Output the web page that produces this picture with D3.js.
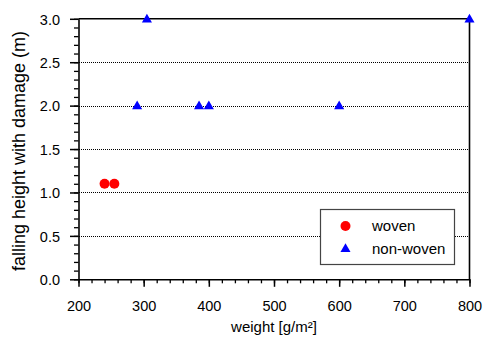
<!DOCTYPE html>
<html><head><meta charset="utf-8">
<script src="https://cdn.jsdelivr.net/npm/d3@7"></script>
<style>html,body{margin:0;padding:0;background:#fff;}svg{display:block;font-family:"Liberation Sans",Arial,sans-serif;}</style>
</head><body>
<svg id="c" width="485" height="341"></svg>
<script>
const wovenX = [240, 255];
const wovenY = [1.1, 1.1];
const nonWovenX = [305, 290, 385, 400, 600, 800];
const nonWovenY = [3.0, 2.0, 2.0, 2.0, 2.0, 3.0];
const xTicks = [200, 300, 400, 500, 600, 700, 800];
const yTicks = [0.0, 0.5, 1.0, 1.5, 2.0, 2.5, 3.0];
const seriesNames = ["woven", "non-woven"];
const xTitle = "weight [g/m²]";
const yTitle = "falling height with damage (m)";

const svg = d3.select("#c");
const L = 78.5, R = 469.5, T = 18.8, B = 279.3;
const x = d3.scaleLinear().domain([200, 800]).range([L, R]);
const y = d3.scaleLinear().domain([0, 3]).range([B, T]);

// grid
const g = svg.append("g");
g.selectAll("line.grid").data(yTicks.filter(v => v > 0 && v < 3)).enter().append("line")
  .attr("x1", Math.ceil(L)).attr("x2", R).attr("y1", d => Math.round(y(d)) + 0.5).attr("y2", d => Math.round(y(d)) + 0.5)
  .attr("stroke", "#000").attr("stroke-width", 1).attr("stroke-dasharray", "1,1")
  .attr("shape-rendering", "crispEdges");

// minor ticks
const xMinor = d3.range(200, 801, 20);
const yMinor = d3.range(0, 3.001, 0.1);
svg.append("g").attr("transform", `translate(0,${B})`)
  .call(d3.axisBottom(x).tickValues(xMinor).tickSize(4).tickFormat(""))
  .call(a => a.select(".domain").remove())
  .selectAll("line").attr("stroke-width", 1.3);
svg.append("g").attr("transform", `translate(${L},0)`)
  .call(d3.axisLeft(y).tickValues(yMinor).tickSize(4.5).tickFormat(""))
  .call(a => a.select(".domain").remove())
  .selectAll("line").attr("stroke-width", 1.3);

// major axes
const xa = svg.append("g").attr("transform", `translate(0,${B})`)
  .call(d3.axisBottom(x).tickValues(xTicks).tickSize(7.5).tickSizeOuter(0).tickPadding(14).tickFormat(d3.format("d")));
const ya = svg.append("g").attr("transform", `translate(${L},0)`)
  .call(d3.axisLeft(y).tickValues(yTicks).tickSize(8.5).tickSizeOuter(0).tickPadding(10).tickFormat(d3.format(".1f")));
[xa, ya].forEach(a => {
  a.select(".domain").attr("stroke-width", 1.6);
  a.selectAll("line").attr("stroke-width", 1.5);
  a.selectAll("text").attr("font-size", 14.5).attr("fill", "#000").attr("font-family", "Liberation Sans, Arial, sans-serif");
});
ya.selectAll("text").attr("dy", "0.36em");

// top and right frame
svg.append("line").attr("x1", L).attr("x2", R).attr("y1", T).attr("y2", T).attr("stroke", "#000").attr("stroke-width", 1.6);
svg.append("line").attr("x1", R).attr("x2", R).attr("y1", T).attr("y2", B).attr("stroke", "#000").attr("stroke-width", 1.6);

// titles
svg.append("text").attr("x", (L + R) / 2).attr("y", 332).attr("text-anchor", "middle")
  .attr("font-size", 15).text(xTitle);
svg.append("text").attr("transform", `translate(25,${(T + B) / 2 + 2}) rotate(-90)`).attr("text-anchor", "middle")
  .attr("font-size", 18).text(yTitle);

// data
const tri = d3.symbol().type(d3.symbolTriangle).size(44);
const wovenData = wovenX.map((v, i) => [v, wovenY[i]]);
const nonWovenData = nonWovenX.map((v, i) => [v, nonWovenY[i]]);
svg.append("g").selectAll("circle").data(wovenData).enter().append("circle")
  .attr("cx", d => x(d[0])).attr("cy", d => y(d[1])).attr("r", 5).attr("fill", "#ff0000");
svg.append("g").selectAll("path").data(nonWovenData).enter().append("path")
  .attr("d", tri).attr("transform", d => `translate(${x(d[0])},${y(d[1]) + 0.8})`).attr("fill", "#0000ff");

// legend
const lg = svg.append("g");
lg.append("rect").attr("x", 320.5).attr("y", 209.5).attr("width", 134).attr("height", 55)
  .attr("fill", "#fff").attr("stroke", "#444").attr("stroke-width", 1.2);
lg.append("circle").attr("cx", 345.5).attr("cy", 226).attr("r", 5).attr("fill", "#ff0000");
lg.append("path").attr("d", tri).attr("transform", "translate(345.5,249)").attr("fill", "#0000ff");
lg.append("text").attr("x", 372).attr("y", 231).attr("font-size", 15).text(seriesNames[0]);
lg.append("text").attr("x", 372).attr("y", 253.5).attr("font-size", 15).text(seriesNames[1]);
</script>
</body></html>
